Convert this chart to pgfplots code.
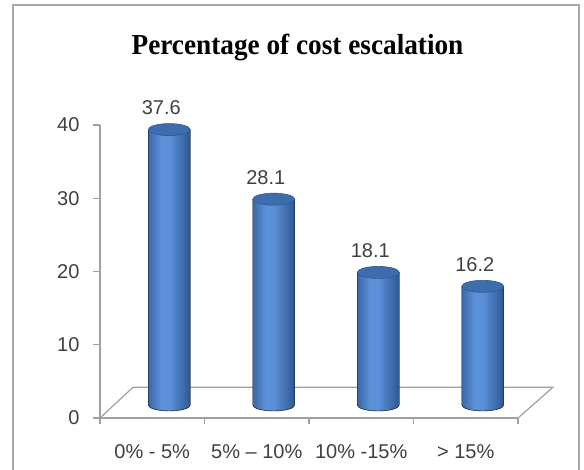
\documentclass[border=0pt]{standalone}
\usepackage{fontspec}
\setmainfont{Liberation Sans}
\newfontfamily\titlefont[FakeStretch=0.94]{Liberation Serif}
\usepackage{pgfplots}
\usepackage{pgfplotstable}
\pgfplotsset{compat=1.18}
\definecolor{axgray}{HTML}{A0A0A0}
\definecolor{bordergray}{HTML}{A8A8A8}
\definecolor{txt}{HTML}{404040}
\definecolor{cylL}{HTML}{3A68A8}
\definecolor{cylM}{HTML}{5C90D8}
\definecolor{cylR}{HTML}{2C5892}
\definecolor{capfill}{HTML}{3E6DAE}
\definecolor{capedge}{HTML}{2E5A95}
\pgfdeclarehorizontalshading{cyl}{100bp}{color(0bp)=(cylL); color(25bp)=(cylL); color(40bp)=(cylM); color(50bp)=(cylM); color(75bp)=(cylR); color(100bp)=(cylR)}
% one cylinder per data point: body from the base (value * y unit below) up to the value
\pgfdeclareplotmark{cylinder}{%
  \shade[shading=cyl] (-21pt,{-\val*7.325pt}) arc[start angle=180, end angle=360, x radius=21pt, y radius=6pt] -- (21pt,0pt) -- (-21pt,0pt) -- cycle;
  \fill[capfill, draw=capedge, line width=0.6pt] (0pt,0pt) ellipse [x radius=21pt, y radius=6pt];
}
\pgfplotstableread{
x y
0.5 37.6
1.5 28.1
2.5 18.1
3.5 16.2
}\data
\begin{document}
\begin{tikzpicture}
\useasboundingbox (0pt,0pt) rectangle (584pt,469pt);
\fill[white] (0pt,0pt) rectangle (584pt,469pt);
\draw[bordergray, line width=1.5pt] (13pt,-5pt) -- (13pt,464pt) -- (579pt,464pt) -- (579pt,-5pt);
\node[anchor=base, font=\titlefont\bfseries\fontsize{29}{32}\selectfont] at (297.5pt,414pt) {Percentage of cost escalation};
\begin{axis}[
  at={(100pt,51pt)}, anchor=south west,
  scale only axis, width=418pt, height=293pt,
  xmin=0, xmax=4, ymin=0, ymax=40,
  clip=false,
  axis lines*=left,
  axis line style={draw=axgray, line width=1.2pt},
  xtick={0.5,1.5,2.5,3.5},
  xticklabels={0\% - 5\%, 5\% -- 10\%, 10\% -15\%, > 15\%},
  minor xtick={0,1,2,3,4},
  ytick={0,10,20,30,40},
  tick align=outside,
  major tick length=7pt, minor tick length=6pt,
  major x tick style={draw=none},
  tick style={axgray, line width=1.2pt},
  minor tick style={axgray, line width=1.2pt},
  xticklabel style={anchor=base, yshift=-33pt, font=\fontsize{20}{23}\selectfont, text=txt},
  yticklabel style={font=\fontsize{20}{23}\selectfont, text=txt, xshift=-10pt},
  /pgf/number format/assume math mode=true,
]
\addplot[axgray, line width=1.2pt] coordinates {(0,0) (0.316,4.2) (4.335,4.2) (4,0)};
\end{axis}
\begin{axis}[
  at={(117pt,64pt)}, anchor=south west,
  scale only axis, width=418pt, height=293pt,
  xmin=0, xmax=4, ymin=0, ymax=40,
  clip=false, axis lines=none,
  /pgf/number format/assume math mode=true,
]
\addplot[only marks, mark=cylinder,
  visualization depends on={\thisrow{y} \as \val},
  nodes near coords,
  every node near coord/.append style={font=\fontsize{20}{23}\selectfont, text=txt, anchor=south, xshift=-8pt, yshift=11pt},
  /pgf/number format/.cd, fixed, precision=1, fixed zerofill, assume math mode=true] table[x=x, y=y] {\data};
\end{axis}
\end{tikzpicture}
\end{document}
